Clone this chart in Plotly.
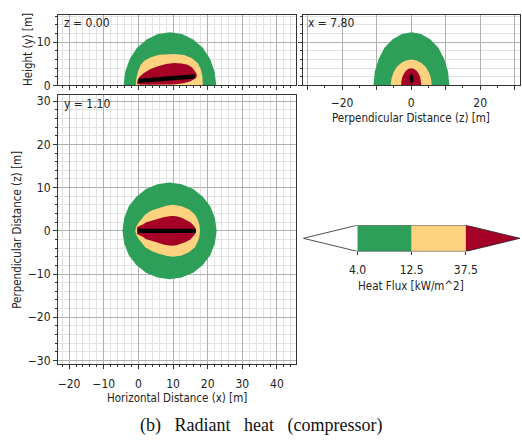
import plotly.graph_objects as go

# ---------------- data ----------------
# Panel A: side view, z = 0.00  (x horizontal, y height)
green_xy_x = [22.5, 22.0, 20.7, 18.6, 15.8, 12.6, 9.1, 5.6, 2.4, -0.4, -2.5, -3.8, -4.3]
green_xy_y = [0.0, 3.2, 6.15, 8.7, 10.65, 11.9, 12.3, 11.9, 10.65, 8.7, 6.15, 3.2, 0.0]
yellow_xy_x = [-0.8, -0.6, -0.1, 0.7, 1.8, 3.6, 6.0, 8.4, 10.5, 13.2, 15.5, 17.1, 18.0, 18.5, 18.6]
yellow_xy_y = [0.0, 1.5, 3.3, 4.8, 5.8, 6.5, 7.1, 7.3, 7.3, 7.05, 6.3, 5.2, 3.8, 2.1, 0.0]
red_xy_x = [-0.3, 0.3, 1.6, 3.5, 5.5, 8.0, 10.3, 12.5, 14.2, 15.4, 16.1, 16.7, 16.9,
            16.5, 15.0, 13.0, 10.0, 6.0, 2.0, 0.0, -0.4]
red_xy_y = [1.0, 2.0, 2.9, 3.8, 4.4, 4.95, 5.2, 5.1, 4.8, 4.2, 3.6, 2.8, 2.2,
            1.6, 1.0, 0.5, 0.25, 0.15, 0.15, 0.25, 0.5]
source_xy_x = [0.0, 16.3]
source_xy_y = [1.05, 2.1]

# Panel B: plan view, y = 1.10  (x horizontal, z perpendicular)
green_xz_x = [22.6, 22.1, 20.8, 18.6, 15.8, 12.5, 9.0, 5.5, 2.2, -0.6, -2.8, -4.1, -4.6,
              -4.1, -2.8, -0.6, 2.2, 5.5, 9.0, 12.5, 15.8, 18.6, 20.8, 22.1]
green_xz_z = [0.0, 2.9, 5.6, 7.9, 9.7, 10.8, 11.2, 10.8, 9.7, 7.9, 5.6, 2.9, 0.0,
              -2.9, -5.6, -7.9, -9.7, -10.8, -11.2, -10.8, -9.7, -7.9, -5.6, -2.9]
yellow_xz_x = [-0.9, -0.6, 0.1, 1.0, 2.0, 3.8, 5.9, 8.0, 10.0, 12.5, 14.7, 16.3, 17.1, 17.6, 17.8,
               17.6, 17.1, 16.3, 14.7, 12.5, 10.0, 8.0, 5.9, 3.8, 2.0, 1.0, 0.1, -0.6]
yellow_xz_z = [0.0, 1.0, 1.9, 2.9, 3.8, 4.7, 5.3, 5.8, 6.0, 5.7, 4.9, 3.8, 2.6, 1.4, 0.0,
               -1.4, -2.6, -3.8, -4.9, -5.7, -6.0, -5.8, -5.3, -4.7, -3.8, -2.9, -1.9, -1.0]
red_xz_x = [-0.4, -0.4, 0.2, 1.5, 2.1, 5.0, 7.5, 9.5, 11.0, 12.5, 13.7, 15.0, 15.6, 16.3, 16.7,
            16.3, 15.6, 15.0, 13.7, 12.5, 11.0, 9.5, 7.5, 5.0, 2.1, 1.5, 0.2, -0.4]
red_xz_z = [0.0, 0.75, 1.1, 1.5, 1.9, 2.6, 3.2, 3.45, 3.35, 3.0, 2.6, 2.0, 1.5, 0.8, 0.0,
            -0.8, -1.5, -2.0, -2.6, -3.0, -3.35, -3.45, -3.2, -2.6, -1.9, -1.5, -1.1, -0.75]
source_xz_x = [0.0, 16.6]
source_xz_z = [0.0, 0.0]

# Panel C: cross-section, x = 7.80  (z horizontal, y height)
green_zy_z = [11.1, 10.7, 9.6, 7.9, 5.6, 2.9, 0.1, -2.7, -5.4, -7.7, -9.4, -10.5, -10.9]
green_zy_y = [0.0, 3.2, 6.15, 8.7, 10.65, 11.9, 12.3, 11.9, 10.65, 8.7, 6.15, 3.2, 0.0]
yellow_zy_z = [6.0, 5.8, 5.2, 4.25, 3.0, 1.6, 0.05, -1.5, -2.9, -4.15, -5.1, -5.7, -5.9]
yellow_zy_y = [0.0, 1.55, 3.0, 4.25, 5.2, 5.8, 6.0, 5.8, 5.2, 4.25, 3.0, 1.55, 0.0]
red_zy_z = [3.0, 2.9, 2.6, 2.1, 1.5, 0.8, 0.05, -0.7, -1.4, -2.0, -2.5, -2.8, -2.9]
red_zy_y = [0.0, 1.05, 2.0, 2.85, 3.45, 3.85, 4.0, 3.85, 3.45, 2.85, 2.0, 1.05, 0.0]
source_zy_z = [0.1, 0.55, 0.7, 0.55, 0.1, -0.35, -0.5, -0.35]
source_zy_y = [0.55, 0.8, 1.5, 2.3, 2.6, 2.3, 1.5, 0.8]

# Colour scale
levels = [4.0, 12.5, 37.5]
level_labels = ["4.0", "12.5", "37.5"]
zone_colors = ["#ffffff", "#2e9f58", "#fed27f", "#a50026"]
source_color = "#000000"

panel_labels = ["z = 0.00", "y = 1.10", "x = 7.80"]
caption = "(b)\u00a0\u00a0\u00a0Radiant\u00a0\u00a0\u00a0heat\u00a0\u00a0\u00a0(compressor)"

# ---------------- figure ----------------
W, H = 522, 445
FONT = "DejaVu Sans Condensed, DejaVu Sans, sans-serif"
fig = go.Figure()


def poly(x, y, color, xa, ya):
    fig.add_trace(go.Scatter(x=x, y=y, fill="toself", fillcolor=color, mode="lines",
                             line=dict(width=0, color=color), xaxis=xa, yaxis=ya,
                             hoverinfo="skip", showlegend=False))


def src_line(x, y, xa, ya):
    fig.add_trace(go.Scatter(x=x, y=y, mode="lines", line=dict(width=4.2, color=source_color),
                             xaxis=xa, yaxis=ya, hoverinfo="skip", showlegend=False))


# Panel A
poly(green_xy_x, green_xy_y, zone_colors[1], "x", "y")
poly(yellow_xy_x, yellow_xy_y, zone_colors[2], "x", "y")
poly(red_xy_x, red_xy_y, zone_colors[3], "x", "y")
src_line(source_xy_x, source_xy_y, "x", "y")
# Panel B
poly(green_xz_x, green_xz_z, zone_colors[1], "x2", "y2")
poly(yellow_xz_x, yellow_xz_z, zone_colors[2], "x2", "y2")
poly(red_xz_x, red_xz_z, zone_colors[3], "x2", "y2")
src_line(source_xz_x, source_xz_z, "x2", "y2")
# Panel C
poly(green_zy_z, green_zy_y, zone_colors[1], "x3", "y3")
poly(yellow_zy_z, yellow_zy_y, zone_colors[2], "x3", "y3")
poly(red_zy_z, red_zy_y, zone_colors[3], "x3", "y3")
poly(source_zy_z, source_zy_y, source_color, "x3", "y3")

# Colour bar (axis 4): index positions of the levels
n = len(levels)
cb_pos = list(range(1, n + 1))  # 1..3
poly([0, cb_pos[0], cb_pos[0], 0], [0.5, 1, 0, 0.5], zone_colors[0], "x4", "y4")
for i in range(n - 1):
    poly([cb_pos[i], cb_pos[i + 1], cb_pos[i + 1], cb_pos[i], cb_pos[i]],
         [0, 0, 1, 1, 0], zone_colors[i + 1], "x4", "y4")
poly([cb_pos[-1], n + 1, cb_pos[-1], cb_pos[-1]], [0, 0.5, 1, 0], zone_colors[-1], "x4", "y4")
fig.add_trace(go.Scatter(x=[0, cb_pos[0], cb_pos[-1], n + 1, cb_pos[-1], cb_pos[0], 0],
                         y=[0.5, 1, 1, 0.5, 0, 0, 0.5], mode="lines",
                         line=dict(width=0.8, color="#222"), xaxis="x4", yaxis="y4",
                         hoverinfo="skip", showlegend=False))


def px_x(a, b):
    return [a / W, b / W]


def px_y(top, bottom):
    return [1 - bottom / H, 1 - top / H]


MAJ = "#b0b0b0"
MIN = "#e2e2e2"
LINE = "#333333"
tickfont = dict(family=FONT, size=12, color="#222")

common = dict(showline=True, linecolor=LINE, linewidth=1, mirror=True, ticks="outside",
              ticklen=4, tickcolor=LINE, tickwidth=1, showgrid=True, gridcolor=MAJ,
              gridwidth=1, zeroline=False, tickfont=tickfont, fixedrange=True)
minor2 = dict(dtick=2, ticks="outside", ticklen=2, tickcolor=LINE, showgrid=True,
              gridcolor=MIN, gridwidth=1)

XR = [-23.2, 45.5]
fig.update_layout(
    width=W, height=H, margin=dict(l=0, r=0, t=0, b=0),
    paper_bgcolor="white", plot_bgcolor="white",
    xaxis=dict(domain=px_x(58, 296), range=XR, dtick=10, showticklabels=False,
               minor=minor2, anchor="y", **common),
    yaxis=dict(domain=px_y(14, 86), range=[0, 16.36], dtick=10, minor=minor2,
               anchor="x", **common),
    xaxis2=dict(domain=px_x(58, 296), range=XR, dtick=10, minor=minor2,
                anchor="y2", ticklabelstandoff=4, **common),
    yaxis2=dict(domain=px_y(96, 370), range=[-30.9, 31.36], dtick=10, minor=minor2,
                anchor="x2", **common),
    xaxis3=dict(domain=px_x(303, 519.5), range=[-31.3, 31.4], tickmode="array",
                tickvals=[-30, -20, -10, 0, 10, 20, 30],
                ticktext=["", "\u221220", "", "0", "", "20", ""],
                minor=dict(dtick=5, ticks="outside", ticklen=2, tickcolor=LINE, showgrid=False),
                anchor="y3", ticklabelstandoff=2, **common),
    yaxis3=dict(domain=px_y(14, 86), range=[0, 16.36], dtick=10, showticklabels=False,
                minor=minor2, anchor="x3", **common),
    xaxis4=dict(domain=px_x(303.3, 520), range=[0, n + 1], tickmode="array",
                tickvals=cb_pos, ticktext=level_labels, ticks="outside", ticklen=3,
                tickcolor=LINE, showgrid=False, zeroline=False, showline=False,
                tickfont=tickfont, anchor="y4", fixedrange=True, ticklabelstandoff=4),
    yaxis4=dict(domain=px_y(228.3, 255), range=[0, 1], visible=False, anchor="x4",
                fixedrange=True),
)

ann_font = dict(family=FONT, size=11.5, color="#222")
lab_font = dict(family=FONT, size=12, color="#222")
anns = [
    dict(text=panel_labels[0], x=62 / W, y=1 - 22 / H, xanchor="left", yanchor="middle", font=lab_font),
    dict(text=panel_labels[1], x=62 / W, y=1 - 105 / H, xanchor="left", yanchor="middle", font=lab_font),
    dict(text=panel_labels[2], x=306 / W, y=1 - 22 / H, xanchor="left", yanchor="middle", font=lab_font),
    dict(text="Height (y) [m]", x=28 / W, y=1 - 50 / H, textangle=-90,
         xanchor="center", yanchor="middle", font=ann_font),
    dict(text="Perpendicular Distance (z) [m]", x=17 / W, y=1 - 233 / H, textangle=-90,
         xanchor="center", yanchor="middle", font=ann_font),
    dict(text="Horizontal Distance (x) [m]", x=177 / W, y=1 - 404 / H,
         xanchor="center", yanchor="middle", font=ann_font),
    dict(text="Perpendicular Distance (z) [m]", x=411 / W, y=1 - 119 / H,
         xanchor="center", yanchor="middle", font=ann_font),
    dict(text="Heat Flux [kW/m^2]", x=411 / W, y=1 - 290 / H,
         xanchor="center", yanchor="middle", font=ann_font),
]
for a in anns:
    fig.add_annotation(xref="paper", yref="paper", showarrow=False, **a)
fig.add_annotation(xref="paper", yref="paper", showarrow=False, text=caption,
                   x=261 / W, y=1 - 432 / H, xanchor="center", yanchor="middle",
                   font=dict(family="Liberation Serif, Times New Roman, serif", size=18,
                             color="#111"))

fig.write_html("out.html", config=dict(displayModeBar=False),
               post_script="document.body.style.margin='0';"
                           "document.body.style.overflow='hidden';")
